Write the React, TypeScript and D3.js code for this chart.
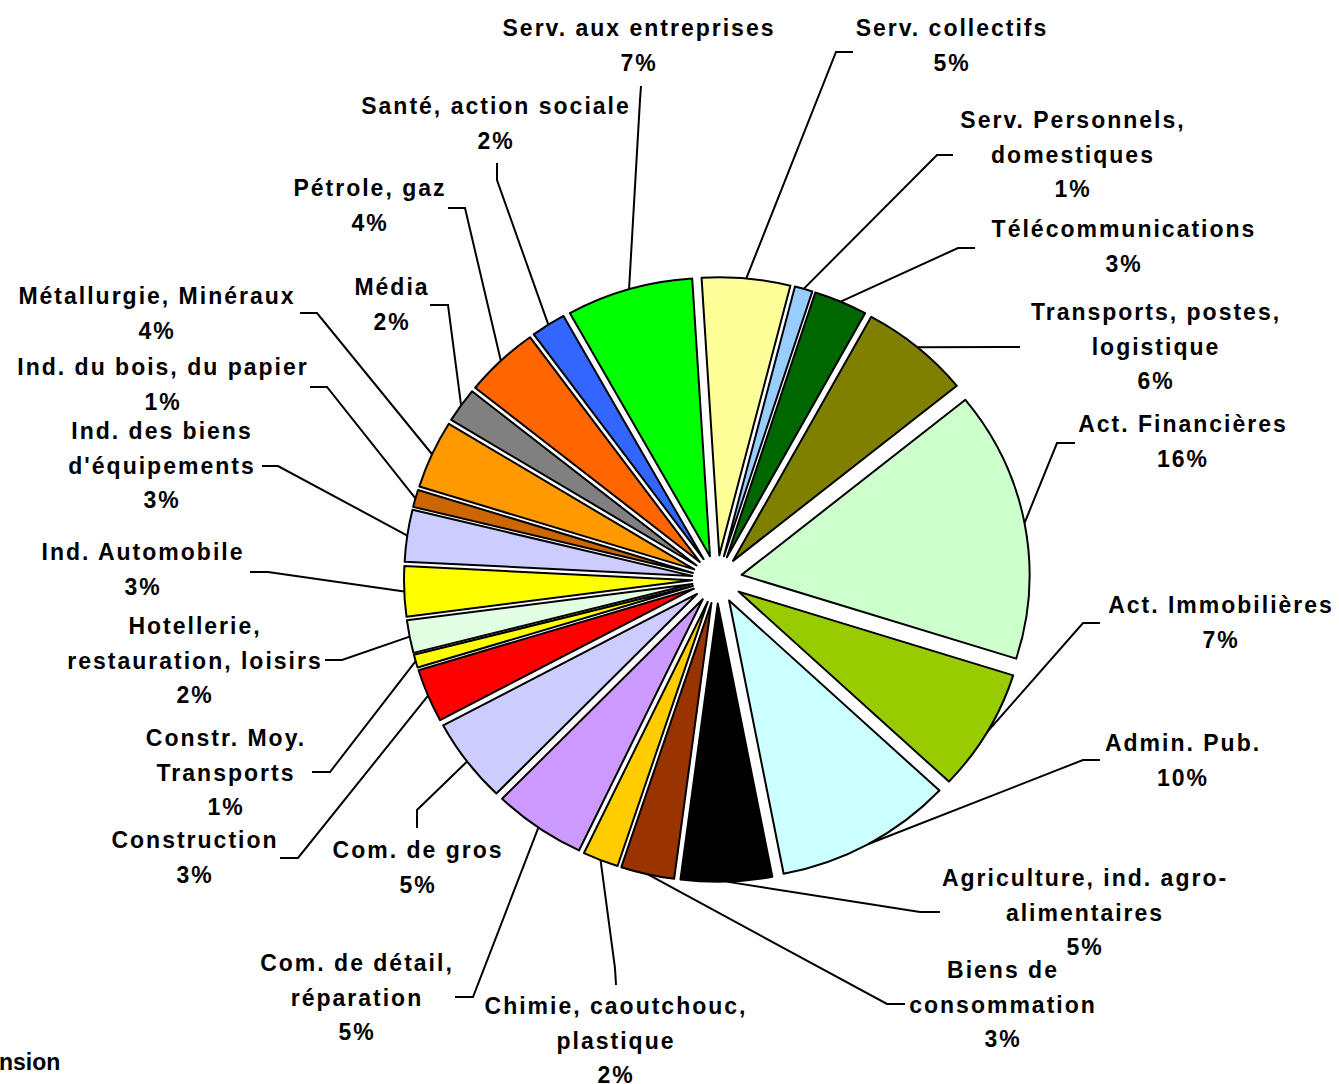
import React, { useEffect, useRef } from 'react';
import * as d3 from 'd3';

// data, in the sheet's order (alphabetical), clockwise from the first slice
const categories = [
  'Act. Financières', 'Act. Immobilières', 'Admin. Pub.', 'Agriculture, ind. agro-alimentaires',
  'Biens de consommation', 'Chimie, caoutchouc, plastique', 'Com. de détail, réparation', 'Com. de gros',
  'Construction', 'Constr. Moy. Transports', 'Hotellerie, restauration, loisirs', 'Ind. Automobile',
  "Ind. des biens d'équipements", 'Ind. du bois, du papier', 'Métallurgie, Minéraux', 'Média',
  'Pétrole, gaz', 'Santé, action sociale', 'Serv. aux entreprises', 'Serv. collectifs',
  'Serv. Personnels, domestiques', 'Télécommunications', 'Transports, postes, logistique',
];

const shares = [
  15.7, 7.1, 10.0, 5.1, 3.0, 2.0, 5.2, 4.9, 3.1, 0.75, 1.9, 2.9,
  3.0, 1.0, 3.95, 2.0, 4.2, 1.95, 7.1, 4.95, 1.0, 3.0, 6.2,
];

const colors = [
  '#CCFFCC', '#99CC00', '#CCFFFF', '#000000', '#993300', '#FFCC00', '#CC99FF', '#CCCCFF',
  '#FF0000', '#FFFF00', '#E3FFE3', '#FFFF00', '#CCCCFF', '#CC6600', '#FF9900', '#808080',
  '#FF6600', '#3366FF', '#00FF00', '#FFFF99', '#99CCFF', '#006600', '#808000',
];

// how each category label is broken into lines (percentage added below)
const labelLines = [
  ['Act. Financières'], ['Act. Immobilières'], ['Admin. Pub.'], ['Agriculture, ind. agro-', 'alimentaires'],
  ['Biens de', 'consommation'], ['Chimie, caoutchouc,', 'plastique'], ['Com. de détail,', 'réparation'], ['Com. de gros'],
  ['Construction'], ['Constr. Moy.', 'Transports'], ['Hotellerie,', 'restauration, loisirs'], ['Ind. Automobile'],
  ['Ind. des biens', "d'équipements"], ['Ind. du bois, du papier'], ['Métallurgie, Minéraux'], ['Média'],
  ['Pétrole, gaz'], ['Santé, action sociale'], ['Serv. aux entreprises'], ['Serv. collectifs'],
  ['Serv. Personnels,', 'domestiques'], ['Télécommunications'], ['Transports, postes,', 'logistique'],
];

// label placement (manual, as in the original sheet): centre x, first line middle y
const labelPos: [number, number][] = [
  [1183, 424], [1221, 605], [1183, 743], [1085, 878], [1003, 970], [616, 1006], [357, 963], [418, 850],
  [195, 840], [226, 738], [195, 626], [143, 552], [162, 431], [163, 367], [157, 296], [392, 287],
  [370, 188], [496, 106], [639, 28], [952, 28], [1073, 120], [1124, 229], [1156, 312],
];

// leader line: end at the label, then elbow
const leaderEnds: [number, number, number, number][] = [
  [1075, 443, 1057, 443], [1100, 623, 1083, 623], [1100, 760, 1083, 760], [940, 912, 920, 912],
  [905, 1004, 887, 1004], [616, 985, 615, 968], [455, 997, 473, 997], [417, 828, 417, 810],
  [280, 858, 298, 858], [312, 772, 330, 772], [325, 660, 342, 660], [250, 572, 268, 572],
  [262, 466, 278, 466], [310, 387, 327, 387], [300, 313, 317, 313], [430, 305, 448, 305],
  [448, 208, 465, 208], [497, 163, 497, 180], [641, 86, 640, 100], [853, 52, 836, 52],
  [953, 155, 937, 155], [975, 248, 958, 248], [1020, 347, 1003, 347],
];

const App: React.FC = () => {
  const svgRef = useRef<SVGSVGElement>(null);

  useEffect(() => {
    if (!svgRef.current) return;

    const width = 1339;
    const height = 1084;
    const cx = 717;
    const cy = 579.4;
    const radius = 288;
    const explode = 25;
    const squash = 0.966;
    const startDeg = 51;
    const font = "'Liberation Sans', Arial, Helvetica, sans-serif";
    const lineH = 34.5;

    const svg = d3.select(svgRef.current);
    svg.selectAll('*').remove();
    svg.attr('width', width).attr('height', height);

    const start = (startDeg * Math.PI) / 180;
    const pie = d3.pie<number>().sort(null).startAngle(start).endAngle(start + 2 * Math.PI);
    const arcs = pie(shares);
    const arc = d3.arc<d3.PieArcDatum<number>>().innerRadius(0).outerRadius(radius);

    const g = svg.append('g')
      .attr('transform', `translate(${cx},${cy}) scale(1,${squash})`);

    g.selectAll('path.slice')
      .data(arcs)
      .enter().append('path')
      .attr('class', 'slice')
      .attr('transform', d => {
        const mid = (d.startAngle + d.endAngle) / 2;
        return `translate(${explode * Math.sin(mid)},${-explode * Math.cos(mid)})`;
      })
      .attr('d', arc)
      .attr('fill', (d, i) => colors[i])
      .attr('stroke', '#000')
      .attr('stroke-width', 2)
      .attr('stroke-linejoin', 'round')
      .attr('vector-effect', 'non-scaling-stroke');

    // Leader lines
    svg.append('g').selectAll('polyline')
      .data(arcs)
      .enter().append('polyline')
      .attr('points', (d, i) => {
        const mid = (d.startAngle + d.endAngle) / 2;
        const px = cx + (explode + radius) * Math.sin(mid);
        const py = cy - (explode + radius) * Math.cos(mid) * squash;
        const [ex, ey, bx, by] = leaderEnds[i];
        return `${ex},${ey} ${bx},${by} ${px},${py}`;
      })
      .attr('fill', 'none')
      .attr('stroke', '#000')
      .attr('stroke-width', 2);

    // Labels
    const labels = svg.append('g')
      .attr('font-family', font)
      .attr('font-weight', 'bold')
      .attr('font-size', 23)
      .attr('letter-spacing', '2px')
      .attr('fill', '#000')
      .attr('text-anchor', 'middle');

    arcs.forEach((d, i) => {
      const lines = [...labelLines[i], `${Math.round(shares[i])}%`];
      const [lx, ly] = labelPos[i];
      const t = labels.append('text').attr('x', lx).attr('y', ly + 8);
      lines.forEach((ln, k) => {
        t.append('tspan').attr('x', lx).attr('dy', k === 0 ? 0 : lineH).text(ln);
      });
    });

    // cut-off note at the bottom left
    svg.append('text')
      .attr('x', -1)
      .attr('y', 1070)
      .attr('font-family', font)
      .attr('font-weight', 'bold')
      .attr('font-size', 23)
      .text('nsion');
  }, []);

  return (
    <div style={{ position: 'absolute', left: 0, top: 0, width: 1339, height: 1084, background: '#fff' }}>
      <svg ref={svgRef} width={1339} height={1084} style={{ display: 'block' }}></svg>
    </div>
  );
};

export default App;
